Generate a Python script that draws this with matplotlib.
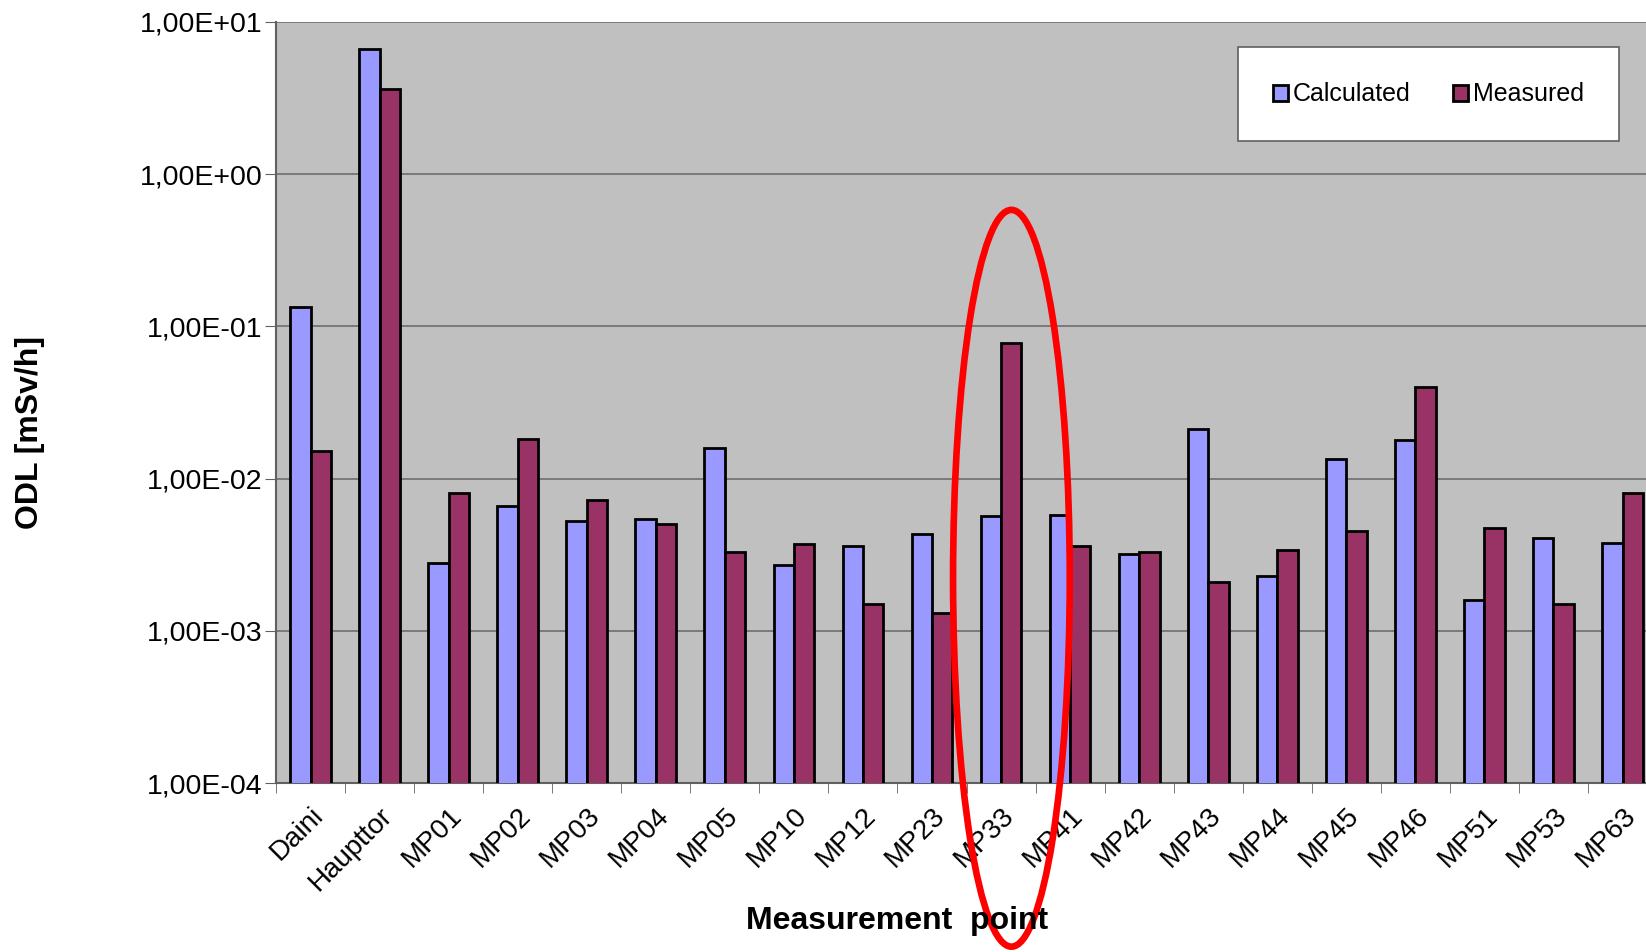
import matplotlib
matplotlib.use("Agg")
import matplotlib.pyplot as plt
import numpy as np
from matplotlib.patches import Ellipse
from matplotlib.ticker import FixedLocator, NullLocator, FuncFormatter

points = ['Daini', 'Haupttor', 'MP01', 'MP02', 'MP03', 'MP04', 'MP05', 'MP10', 'MP12', 'MP23',
          'MP33', 'MP41', 'MP42', 'MP43', 'MP44', 'MP45', 'MP46', 'MP51', 'MP53', 'MP63']
calculated = [0.133, 6.6, 0.0028, 0.0066, 0.0053, 0.0054, 0.0158, 0.0027, 0.0036, 0.0043,
              0.0057, 0.0058, 0.0032, 0.0211, 0.0023, 0.0135, 0.018, 0.0016, 0.0041, 0.0038]
measured = [0.0151, 3.6, 0.0080, 0.0183, 0.0072, 0.0050, 0.0033, 0.0037, 0.0015, 0.0013,
            0.0776, 0.0036, 0.0033, 0.0021, 0.0034, 0.0045, 0.0398, 0.0047, 0.0015, 0.0080]
highlight = 'MP33'

plt.rcParams['font.family'] = ['Liberation Sans', 'DejaVu Sans']

fig = plt.figure(figsize=(16.46, 9.52), dpi=100)
ax = fig.add_axes([0.1677, 0.1775, 0.839, 0.7995])
ax.set_facecolor('#C0C0C0')

x = np.arange(len(points))
w = 0.295
ax.bar(x - w/2, calculated, w, color='#9999FF', edgecolor='black', linewidth=2.0, label='Calculated', zorder=3)
ax.bar(x + w/2, measured, w, color='#993366', edgecolor='black', linewidth=2.0, label='Measured', zorder=3)

ax.set_yscale('log')
ax.set_ylim(1e-4, 10)
ax.set_xlim(-0.5, len(points) - 0.5)
ax.yaxis.set_major_locator(FixedLocator([1e-4, 1e-3, 1e-2, 1e-1, 1, 10]))
ax.yaxis.set_minor_locator(NullLocator())
ax.yaxis.set_major_formatter(FuncFormatter(lambda v, p: f"{v:.2E}".replace('.', ',')))
ax.grid(axis='y', which='major', color='#6E6E6E', linewidth=1.2, zorder=1)

ax.set_xticks(x)
ax.set_xticklabels(points, rotation=45, ha='right', rotation_mode='anchor', fontsize=20)
ax.set_xticks(np.arange(-0.5, len(points)), minor=True)
ax.tick_params(axis='x', which='major', length=0, pad=14)
ax.tick_params(axis='x', which='minor', length=7, color='#606060', direction='out')
ax.tick_params(axis='y', labelsize=20.5, length=8, color='#606060', pad=2)

for s in ['top', 'right']:
    ax.spines[s].set_visible(False)
for s in ['left', 'bottom']:
    ax.spines[s].set_color('#606060')
    ax.spines[s].set_linewidth(1.5)

fig.text(0.545, 0.033, 'Measurement  point', fontsize=23, fontweight='bold',
         ha='center', va='center')
fig.text(0.018, 0.546, 'ODL [mSv/h]', fontsize=23, fontweight='bold',
         rotation=90, ha='center', va='center')

leg = ax.legend(ncol=2, loc='upper right', bbox_to_anchor=(0.9725, 0.9665), fontsize=18,
                frameon=True, fancybox=False, framealpha=1, borderpad=1.4, handlelength=0.6,
                handleheight=0.6, handletextpad=0.2, columnspacing=1.7, borderaxespad=0)
leg.get_frame().set_facecolor('white')
leg.get_frame().set_edgecolor('#606060')
leg.get_frame().set_linewidth(1.2)
leg.set_zorder(5)

# red ring around the highlighted point
hi = points.index(highlight)
ring = Ellipse((hi + 0.15, 0.269), 1.69, 0.968, transform=ax.get_xaxis_transform(),
               fill=False, edgecolor='#FF0000', linewidth=4.8, clip_on=False, zorder=6)
ax.add_patch(ring)

fig.savefig('out.png', dpi=100)
